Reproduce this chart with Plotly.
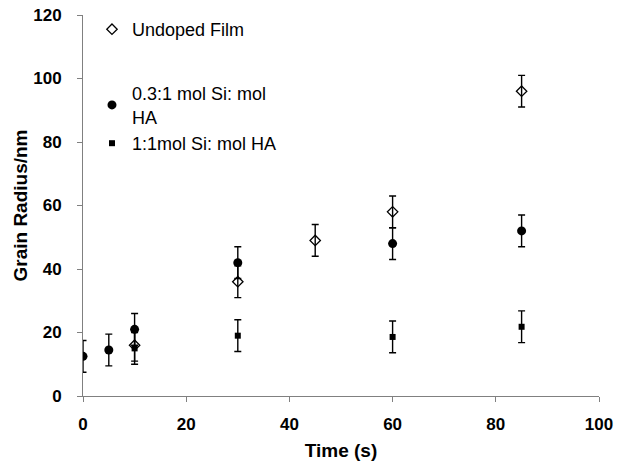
import plotly.graph_objects as go

# Data
undoped_x = [10, 30, 45, 60, 85]
undoped_y = [16, 36, 49, 58, 96]
undoped_err = [5, 5, 5, 5, 5]

si03_x = [0, 5, 10, 30, 60, 85]
si03_y = [12.5, 14.5, 21, 42, 48, 52]
si03_err = [5, 5, 5, 5, 5, 5]

si1_x = [10, 30, 60, 85]
si1_y = [15, 19, 18.6, 21.8]
si1_err = [5, 5, 5, 5]

names = ["Undoped Film", "0.3:1 mol Si: mol<br>HA", "1:1mol Si: mol HA"]
x_ticks = [0, 20, 40, 60, 80, 100]
y_ticks = [0, 20, 40, 60, 80, 100, 120]

FONT = "Arial, Liberation Sans, sans-serif"

def err(vals):
    return dict(type="data", array=vals, visible=True, color="black", thickness=1.4, width=3.5)

fig = go.Figure()
fig.add_trace(go.Scatter(x=undoped_x, y=undoped_y, mode="markers", name=names[0],
                         error_y=err(undoped_err), legend="legend",
                         marker=dict(symbol="diamond-open", size=8, color="black", line=dict(width=1.3))))
fig.add_trace(go.Scatter(x=si03_x, y=si03_y, mode="markers", name=names[1],
                         error_y=err(si03_err), legend="legend2",
                         marker=dict(symbol="circle", size=9, color="black")))
fig.add_trace(go.Scatter(x=si1_x, y=si1_y, mode="markers", name=names[2],
                         error_y=err(si1_err), legend="legend3",
                         marker=dict(symbol="square", size=6, color="black")))

leg = dict(bgcolor="rgba(0,0,0,0)", font=dict(family=FONT, size=18, color="black"),
           xanchor="left", yanchor="top", itemwidth=30, tracegroupgap=0)

fig.update_layout(
    width=625, height=465,
    margin=dict(l=83, r=26, t=15, b=69, autoexpand=False),
    plot_bgcolor="white", paper_bgcolor="white",
    font=dict(family=FONT, size=16, color="black"),
    showlegend=True,
    legend=dict(leg, x=0.0174, y=1.0105),
    legend2=dict(leg, x=0.0174, y=0.8425),
    legend3=dict(leg, x=0.0174, y=0.7113),
    xaxis=dict(range=[0, 100], tickvals=x_ticks, ticks="outside", ticklen=5, tickcolor="#808080",
               showline=True, linecolor="#808080", linewidth=1, showgrid=False, zeroline=False,
               ticklabelstandoff=8, automargin=False,
               tickfont=dict(family=FONT, size=17, color="black", weight="bold"),
               title=dict(text="<b>Time (s)</b>", font=dict(family=FONT, size=19), standoff=10)),
    yaxis=dict(range=[0, 120], tickvals=y_ticks, ticks="outside", ticklen=5, tickcolor="#808080",
               showline=True, linecolor="#808080", linewidth=1, showgrid=False, zeroline=False,
               ticklabelstandoff=12, automargin=False,
               tickfont=dict(family=FONT, size=17, color="black", weight="bold"),
               title=dict(text="<b>Grain Radius/nm</b>", font=dict(family=FONT, size=19), standoff=0)),
)

fig.write_html("out.html")
